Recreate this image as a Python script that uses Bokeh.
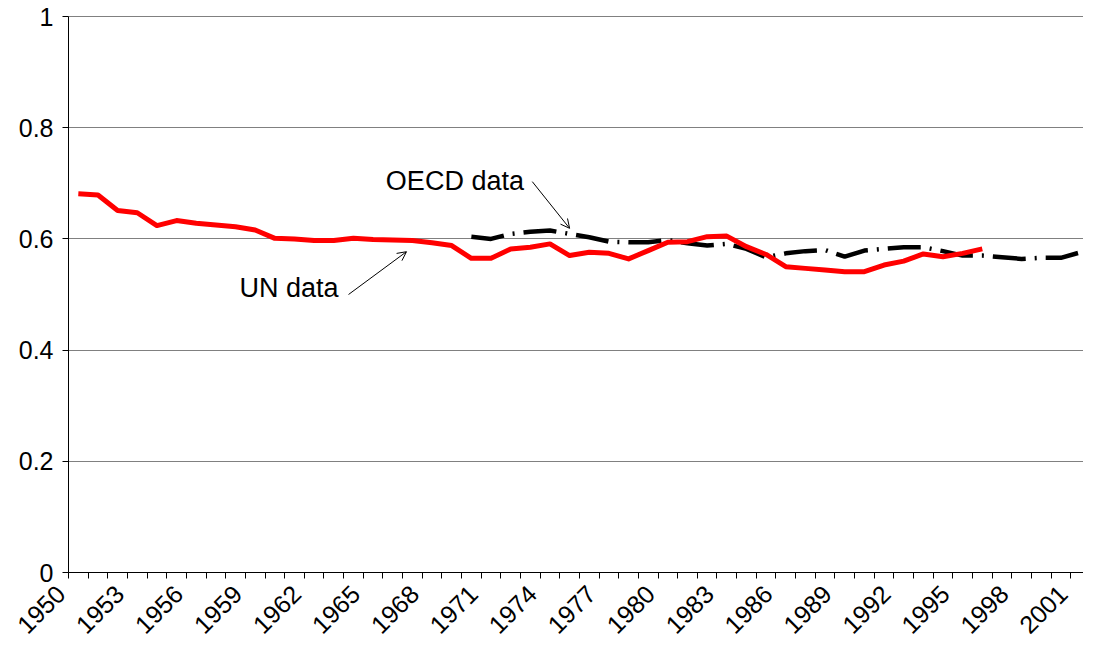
import math
from bokeh.plotting import figure
from bokeh.models import Range1d, FixedTicker, Label, Arrow, OpenHead, LinearAxis
from bokeh.embed import file_html
from bokeh.resources import INLINE

# ---- data ----
un_years = list(range(1950, 1997))
un_values = [0.681, 0.679, 0.651, 0.647, 0.624, 0.633, 0.628, 0.625, 0.622, 0.616,
             0.601, 0.600, 0.597, 0.597, 0.601, 0.599, 0.598, 0.597, 0.593, 0.588,
             0.565, 0.565, 0.582, 0.585, 0.591, 0.570, 0.576, 0.574, 0.564, 0.579,
             0.594, 0.595, 0.604, 0.605, 0.586, 0.572, 0.550, 0.547, 0.544, 0.541,
             0.541, 0.553, 0.560, 0.573, 0.568, 0.574, 0.582]

oecd_years = list(range(1970, 2003))
oecd_values = [0.604, 0.600, 0.609, 0.613, 0.615, 0.609, 0.603, 0.595, 0.594, 0.594,
               0.598, 0.592, 0.588, 0.591, 0.582, 0.567, 0.574, 0.578, 0.580, 0.568,
               0.579, 0.582, 0.585, 0.585, 0.578, 0.570, 0.570, 0.567, 0.564, 0.566,
               0.566, 0.576, 0.592]

x_tick_years = list(range(1950, 2002, 3))
x_tick_labels = [str(y) for y in x_tick_years]
category_years = list(range(1950, 2003))
y_ticks = [0, 0.2, 0.4, 0.6, 0.8, 1]
y_tick_labels = ["0", "0.2", "0.4", "0.6", "0.8", "1"]

# annotation / layout placement
oecd_label_pos = (1965.65, 0.705)
oecd_arrow = (1973.1, 0.703, 1975.0, 0.619)
un_label_pos = (1958.2, 0.511)
un_arrow = (1963.75, 0.500, 1966.7, 0.577)
X_LABEL_SHIFT = -0.9            # rotated labels sit left of their category (Excel style)
X_VIEW = (1946.04, 2001.15)     # view includes room left of the axis for tick labels
Y_VIEW = (-0.13129, 1.02878)    # room below the axis for the rotated year labels
AXIS_X = 1949.5                 # y axis at the left category boundary

FONT = "Liberation Sans"

p = figure(width=1083, height=645, output_backend="svg", toolbar_location=None,
           x_range=Range1d(*X_VIEW), y_range=Range1d(*Y_VIEW),
           min_border_left=0, min_border_right=0, min_border_top=0, min_border_bottom=0,
           background_fill_color="white", border_fill_color="white")
p.outline_line_color = None
p.xgrid.visible = False

# horizontal grid lines, only right of the y axis
grid = p.ygrid[0]
grid.ticker = FixedTicker(ticks=y_ticks)
if "cross_bounds" in grid.properties():
    grid.grid_line_color = "#808080"
    grid.grid_line_width = 1
    grid.cross_bounds = (AXIS_X, X_VIEW[1])
else:
    grid.visible = False
    p.segment(x0=[AXIS_X] * len(y_ticks), x1=[X_VIEW[1]] * len(y_ticks),
              y0=y_ticks, y1=y_ticks, line_color="#808080", line_width=1)

# x axis line + category boundary ticks at y = 0
xa = p.xaxis[0]
xa.fixed_location = 0
xa.bounds = (AXIS_X, X_VIEW[1])
xa.ticker = FixedTicker(ticks=[], minor_ticks=[y - 0.5 for y in category_years])
xa.major_tick_out = 0
xa.major_tick_in = 0
xa.minor_tick_out = 6
xa.minor_tick_in = 0
xa.axis_line_color = "black"
xa.minor_tick_line_color = "black"

# year labels (rotated)
xl = LinearAxis(fixed_location=0,
                ticker=FixedTicker(ticks=[y + X_LABEL_SHIFT for y in x_tick_years]),
                major_label_overrides={y + X_LABEL_SHIFT: l for y, l in zip(x_tick_years, x_tick_labels)},
                axis_line_color=None, major_tick_line_color=None, minor_tick_line_color=None,
                major_tick_out=0, major_tick_in=0,
                major_label_orientation=math.pi / 4, major_label_standoff=17,
                major_label_text_font=FONT, major_label_text_font_size="25px",
                major_label_text_color="black")
p.add_layout(xl, "below")

# y axis at the first category boundary
ya = p.yaxis[0]
ya.fixed_location = AXIS_X
ya.bounds = (0, 1)
ya.ticker = FixedTicker(ticks=y_ticks)
ya.major_label_overrides = {t: l for t, l in zip(y_ticks, y_tick_labels)}
ya.major_tick_out = 6
ya.major_tick_in = 0
ya.minor_tick_line_color = None
ya.major_label_standoff = 9
ya.major_label_text_font = FONT
ya.major_label_text_font_size = "25px"
ya.major_label_text_color = "black"
ya.axis_line_color = "black"
ya.major_tick_line_color = "black"

p.line(oecd_years, oecd_values, line_color="black", line_width=4.5,
       line_dash="33 9 2 9")
p.line(un_years, un_values, line_color="#ff0000", line_width=5, line_join="round")

p.add_layout(Label(x=oecd_label_pos[0], y=oecd_label_pos[1], text="OECD data",
                   text_font=FONT, text_font_size="27px", text_baseline="middle",
                   text_color="black"))
p.add_layout(Label(x=un_label_pos[0], y=un_label_pos[1], text="UN data",
                   text_font=FONT, text_font_size="27px", text_baseline="middle",
                   text_color="black"))
p.add_layout(Arrow(x_start=oecd_arrow[0], y_start=oecd_arrow[1],
                   x_end=oecd_arrow[2], y_end=oecd_arrow[3],
                   line_width=1, line_color="black",
                   end=OpenHead(size=9, line_width=1, line_color="black")))
p.add_layout(Arrow(x_start=un_arrow[0], y_start=un_arrow[1],
                   x_end=un_arrow[2], y_end=un_arrow[3],
                   line_width=1, line_color="black",
                   end=OpenHead(size=9, line_width=1, line_color="black")))

open("out.html", "w").write(file_html(p, INLINE))
